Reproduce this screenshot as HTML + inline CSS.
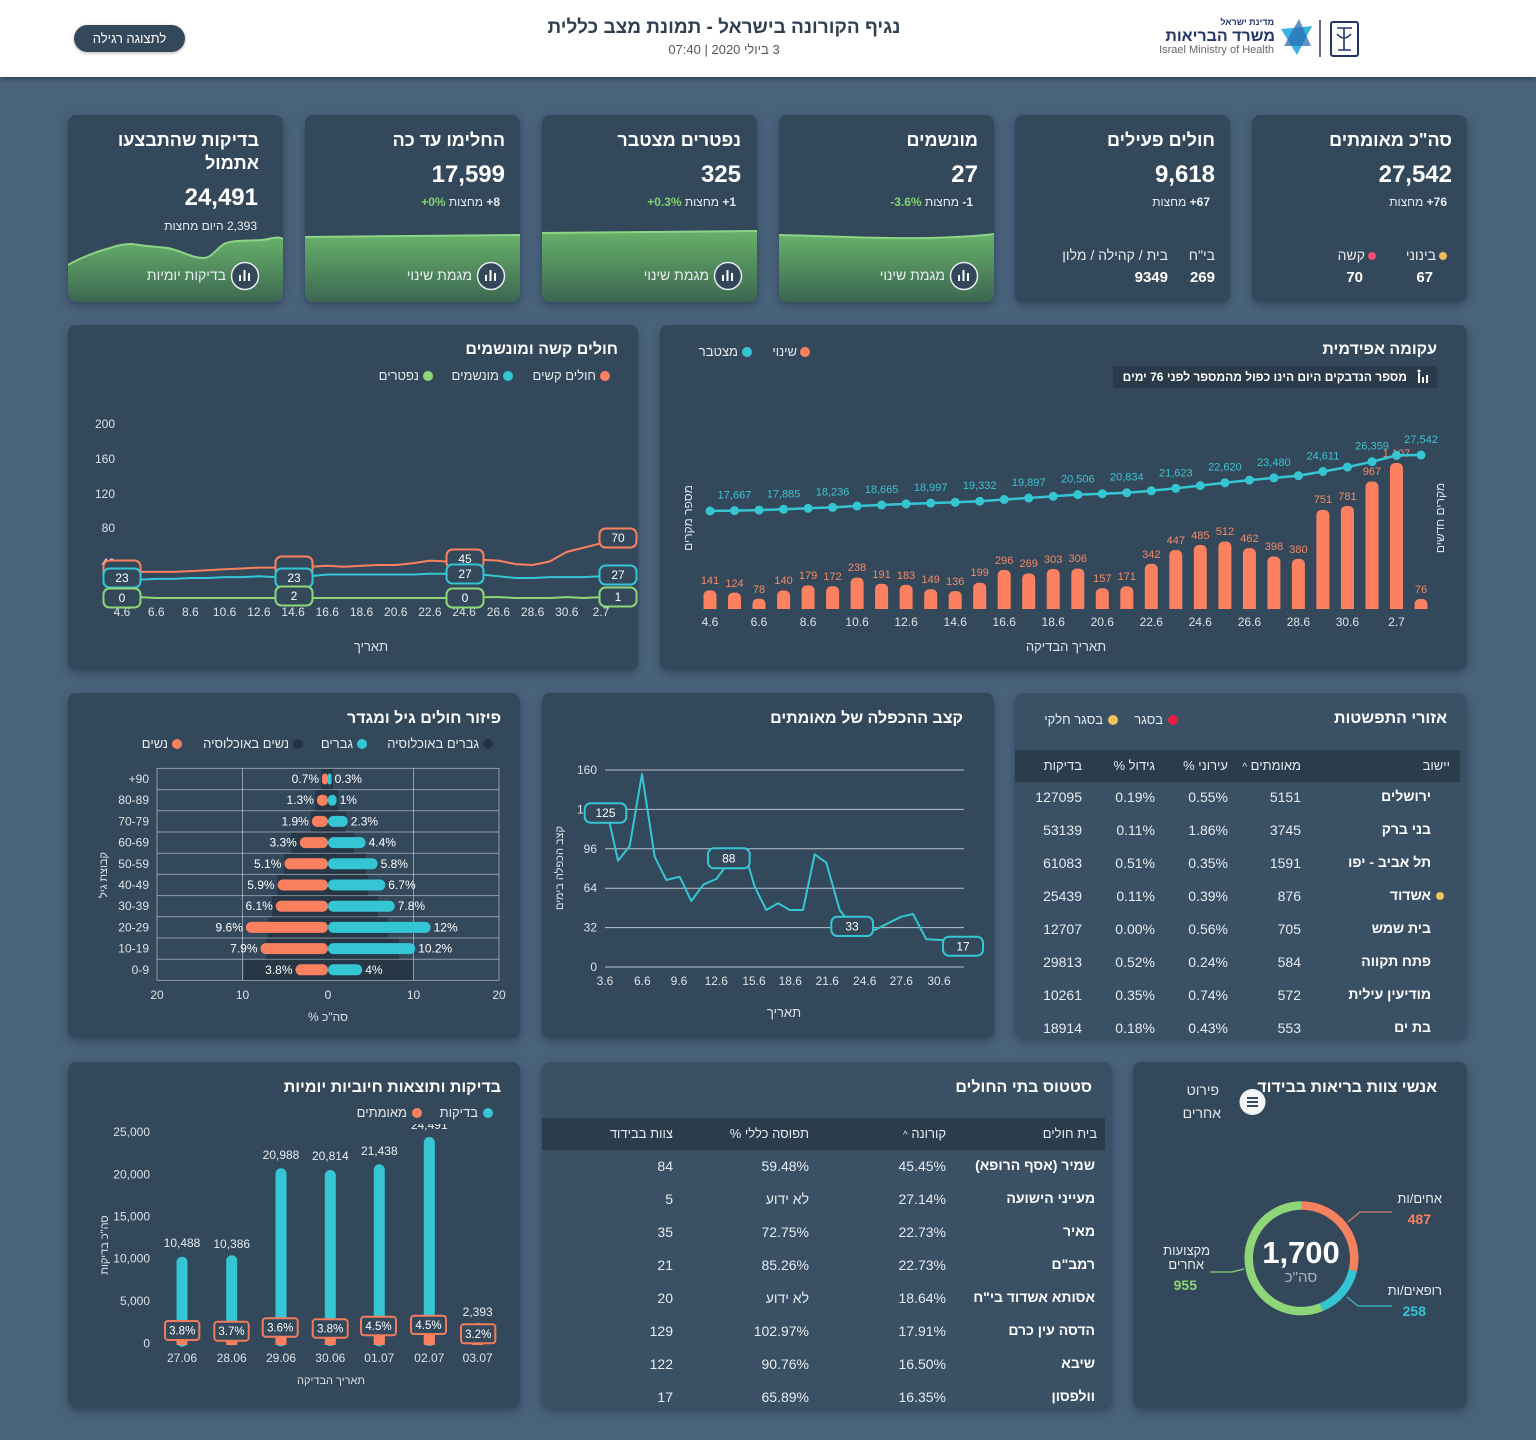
<!DOCTYPE html>
<html lang="he" dir="rtl">
<head>
<meta charset="utf-8">
<title>נגיף הקורונה בישראל</title>
<style>
*{margin:0;padding:0;box-sizing:border-box}
html,body{width:1536px;height:1440px;overflow:hidden}
body{position:relative;background:#4a637c;font-family:"Liberation Sans","DejaVu Sans",sans-serif;color:#fff}
.card{position:absolute;background:#34485b;border-radius:8px;box-shadow:0 3px 9px rgba(25,40,55,.5)}
.tb{background:#3a5065}
.t{position:absolute;white-space:nowrap;line-height:1}
.h{font-size:16px;font-weight:bold;color:#fff}
.l{font-size:13px;color:#e4eaee}
.ct{font-size:18px;font-weight:bold;color:#fff}
.cn{font-size:24px;font-weight:bold;color:#fff}
.cs{font-size:12px;color:#e8edf0}
.cs b{font-weight:bold}
.g{color:#7fd66f;font-weight:bold}
.bl{font-size:14px;color:#e8edf0}
.bv{font-size:15px;font-weight:bold;color:#fff}
.th{font-size:13px;color:#e6ecf0}
.td{font-size:14px;color:#e6ecf0}
.tn{font-size:14px;font-weight:bold;color:#fff}
svg{direction:ltr}
</style>
</head>
<body>

<!-- header -->
<div style="position:absolute;left:0;top:0;width:1536px;height:77px;background:#fff;box-shadow:0 2px 5px rgba(0,0,0,.35)"></div>
<div class="t" style="left:474px;width:500px;text-align:center;top:18px;font-size:19px;font-weight:bold;color:#2f3f50">נגיף הקורונה בישראל - תמונת מצב כללית</div>
<div class="t" style="left:474px;width:500px;text-align:center;top:43px;font-size:13px;color:#555">3 ביולי 2020 | 07:40</div>
<div style="position:absolute;left:74px;top:25px;width:111px;height:27px;border-radius:14px;background:#34485b;color:#fff;font-size:13px;line-height:27px;text-align:center;box-shadow:0 1px 3px rgba(0,0,0,.3)">לתצוגה רגילה</div>
<div class="t" style="right:262px;top:18px;font-size:9px;font-weight:bold;color:#22336b">מדינת ישראל</div>
<div class="t" style="right:261px;top:29px;font-size:16px;font-weight:bold;color:#22336b">משרד הבריאות</div>
<div class="t" style="right:262px;top:45px;font-size:11px;color:#666" dir="ltr">Israel Ministry of Health</div>

<!-- cards row 1 -->
<div class="card" style="left:1252px;top:115px;width:215px;height:187px"></div>
<div class="card" style="left:1015px;top:115px;width:215px;height:187px"></div>
<div class="card" style="left:779px;top:115px;width:215px;height:187px"></div>
<div class="card" style="left:542px;top:115px;width:215px;height:187px"></div>
<div class="card" style="left:305px;top:115px;width:215px;height:187px"></div>
<div class="card" style="left:68px;top:115px;width:215px;height:187px"></div>
<!-- row 2 -->
<div class="card" style="left:68px;top:325px;width:570px;height:345px"></div>
<div class="card" style="left:660px;top:325px;width:807px;height:345px"></div>
<!-- row 3 -->
<div class="card" style="left:68px;top:693px;width:452px;height:345px"></div>
<div class="card" style="left:542px;top:693px;width:452px;height:345px"></div>
<div class="card tb" style="left:1015px;top:693px;width:452px;height:345px"></div>
<!-- row 4 -->
<div class="card" style="left:68px;top:1062px;width:452px;height:346px"></div>
<div class="card tb" style="left:542px;top:1062px;width:570px;height:346px"></div>
<div class="card" style="left:1133px;top:1062px;width:334px;height:346px"></div>

<svg style="position:absolute;left:0;top:0;direction:ltr" direction="ltr" width="1536" height="1440" viewBox="0 0 1536 1440" font-family="Liberation Sans, DejaVu Sans, sans-serif">
<defs>
<linearGradient id="gg" x1="0" y1="0" x2="0" y2="1"><stop offset="0" stop-color="#67b16a"/><stop offset="1" stop-color="#3b6450"/></linearGradient>
<clipPath id="k6"><rect x="68" y="115" width="215" height="187" rx="8"/></clipPath>
<clipPath id="k5"><rect x="305" y="115" width="215" height="187" rx="8"/></clipPath>
<clipPath id="k4"><rect x="542" y="115" width="215" height="187" rx="8"/></clipPath>
<clipPath id="k3"><rect x="779" y="115" width="215" height="187" rx="8"/></clipPath>
<clipPath id="kb"><rect x="660" y="380" width="800" height="229"/></clipPath>
<clipPath id="kt"><rect x="68" y="1124" width="452" height="260"/></clipPath>
</defs>

<!-- header logo -->
<polygon points="1281,29 1312,26 1297,55" fill="#3ab4de"/>
<polygon points="1284,46 1299,19 1311,46" fill="#2a6db5" opacity="0.75"/>
<line x1="1320" y1="20" x2="1320" y2="57" stroke="#22336b" stroke-width="1.5"/>
<rect x="1331" y="22" width="27" height="34" rx="2" fill="none" stroke="#22336b" stroke-width="2"/>
<path d="M1337,28 L1352,28 M1344,28 L1344,50 M1338,50 L1351,50 M1337,34 Q1344,42 1351,34" fill="none" stroke="#22336b" stroke-width="1.6"/>

<!-- top card green areas -->
<path clip-path="url(#k6)" fill="url(#gg)" d="M66,266 C80,258 95,252 110,248 C118,245 124,244 132,244 C145,246 155,247 168,248 C182,251 192,258 203,258 C212,258 216,249 224,244 C232,240 248,241 262,240 C272,239 278,235 285,240 L285,304 L66,304 Z"/>
<path clip-path="url(#k6)" fill="none" stroke="#8ed487" stroke-width="2" d="M66,266 C80,258 95,252 110,248 C118,245 124,244 132,244 C145,246 155,247 168,248 C182,251 192,258 203,258 C212,258 216,249 224,244 C232,240 248,241 262,240 C272,239 278,235 285,240"/>
<path clip-path="url(#k5)" fill="url(#gg)" d="M305,237 L520,235 L520,304 L305,304 Z"/>
<path clip-path="url(#k5)" fill="none" stroke="#8ed487" stroke-width="2" d="M305,237 L520,235"/>
<path clip-path="url(#k4)" fill="url(#gg)" d="M542,233 L757,231 L757,304 L542,304 Z"/>
<path clip-path="url(#k4)" fill="none" stroke="#8ed487" stroke-width="2" d="M542,233 L757,231"/>
<path clip-path="url(#k3)" fill="url(#gg)" d="M779,235 C830,236 880,239 930,238 C960,237 980,236 994,234 L994,304 L779,304 Z"/>
<path clip-path="url(#k3)" fill="none" stroke="#8ed487" stroke-width="2" d="M779,235 C830,236 880,239 930,238 C960,237 980,236 994,234"/>

<g fill="#33475a" stroke="#e6ecf0" stroke-width="1.5">
<circle cx="491" cy="276" r="13.5"/><circle cx="728" cy="276" r="13.5"/><circle cx="964" cy="276" r="13.5"/><circle cx="245" cy="276" r="13.5"/>
</g>
<g fill="#fff">
<rect x="485" y="275" width="2" height="6"/><rect x="489.5" y="270" width="2" height="11"/><rect x="494" y="273" width="2" height="8"/>
<rect x="722" y="275" width="2" height="6"/><rect x="726.5" y="270" width="2" height="11"/><rect x="731" y="273" width="2" height="8"/>
<rect x="958" y="275" width="2" height="6"/><rect x="962.5" y="270" width="2" height="11"/><rect x="967" y="273" width="2" height="8"/>
<rect x="239" y="275" width="2" height="6"/><rect x="243.5" y="270" width="2" height="11"/><rect x="248" y="273" width="2" height="8"/>
</g>
<circle cx="1443" cy="256" r="4" fill="#e9bf55"/>
<circle cx="1372" cy="256" r="4" fill="#ee4d73"/>

<!-- ===== epidemic curve ===== -->
<circle cx="805" cy="352" r="5" fill="#fa8060"/>
<circle cx="747" cy="352" r="5" fill="#35c6d4"/>
<rect x="1113" y="366" width="324" height="22" fill="#2b3a4a"/>
<g fill="#fff"><rect x="1418" y="373" width="2" height="10"/><rect x="1422" y="377" width="2" height="6"/><rect x="1426" y="375" width="2" height="8"/><circle cx="1419" cy="371" r="1.5"/></g>

<g clip-path="url(#kb)" fill="#fb8160">
<rect x="703.5" y="590.4" width="13" height="26.6" rx="5"/>
<rect x="728" y="592.6" width="13" height="24.4" rx="5"/>
<rect x="752.5" y="598.7" width="13" height="18.3" rx="5"/>
<rect x="777.1" y="590.5" width="13" height="26.5" rx="5"/>
<rect x="801.6" y="585.4" width="13" height="31.6" rx="5"/>
<rect x="826.1" y="586.3" width="13" height="30.7" rx="5"/>
<rect x="850.6" y="577.6" width="13" height="39.4" rx="5"/>
<rect x="875.1" y="583.8" width="13" height="33.2" rx="5"/>
<rect x="899.6" y="584.9" width="13" height="32.1" rx="5"/>
<rect x="924.2" y="589.3" width="13" height="27.7" rx="5"/>
<rect x="948.7" y="591.1" width="13" height="25.9" rx="5"/>
<rect x="973.2" y="582.8" width="13" height="34.2" rx="5"/>
<rect x="997.7" y="570" width="13" height="47" rx="5"/>
<rect x="1022.2" y="573.5" width="13" height="43.5" rx="5"/>
<rect x="1046.7" y="569" width="13" height="48" rx="5"/>
<rect x="1071.3" y="568.6" width="13" height="48.4" rx="5"/>
<rect x="1095.8" y="588.3" width="13" height="28.7" rx="5"/>
<rect x="1120.3" y="586.4" width="13" height="30.6" rx="5"/>
<rect x="1144.8" y="563.9" width="13" height="53.1" rx="5"/>
<rect x="1169.3" y="550" width="13" height="67" rx="5"/>
<rect x="1193.8" y="545" width="13" height="72" rx="5"/>
<rect x="1218.4" y="541.5" width="13" height="75.5" rx="5"/>
<rect x="1242.9" y="548.1" width="13" height="68.9" rx="5"/>
<rect x="1267.4" y="556.5" width="13" height="60.5" rx="5"/>
<rect x="1291.9" y="558.9" width="13" height="58.1" rx="5"/>
<rect x="1316.4" y="509.9" width="13" height="107.1" rx="5"/>
<rect x="1340.9" y="506" width="13" height="111" rx="5"/>
<rect x="1365.5" y="481.5" width="13" height="135.5" rx="5"/>
<rect x="1390" y="463" width="13" height="154" rx="5"/>
<rect x="1414.5" y="599" width="13" height="18" rx="5"/>
</g>
<g fill="#f48a66" font-size="11" text-anchor="middle">
<text x="710" y="584">141</text><text x="734.5" y="587">124</text><text x="759" y="593">78</text><text x="783.6" y="584">140</text><text x="808.1" y="579">179</text><text x="832.6" y="580">172</text><text x="857.1" y="571">238</text><text x="881.6" y="578">191</text><text x="906.1" y="579">183</text><text x="930.7" y="583">149</text><text x="955.2" y="585">136</text><text x="979.7" y="576">199</text><text x="1004.2" y="564">296</text><text x="1028.7" y="567">269</text><text x="1053.2" y="563">303</text><text x="1077.8" y="562">306</text><text x="1102.3" y="582">157</text><text x="1126.8" y="580">171</text><text x="1151.3" y="558">342</text><text x="1175.8" y="544">447</text><text x="1200.3" y="539">485</text><text x="1224.9" y="535">512</text><text x="1249.4" y="542">462</text><text x="1273.9" y="550">398</text><text x="1298.4" y="553">380</text><text x="1322.9" y="503">751</text><text x="1347.4" y="500">781</text><text x="1372" y="475">967</text><text x="1396.5" y="457">1,107</text><text x="1421" y="593">76</text>
</g>
<polyline fill="none" stroke="#35c6d4" stroke-width="2.5" points="710,511 734.5,510.6 759,510.1 783.6,509.3 808.1,508.3 832.6,507.4 857.1,506 881.6,505 906.1,503.9 930.7,503.1 955.2,502.3 979.7,501.2 1004.2,499.5 1028.7,498 1053.2,496.3 1077.8,494.6 1102.3,493.7 1126.8,492.7 1151.3,490.8 1175.8,488.3 1200.3,485.6 1224.9,482.7 1249.4,480.1 1273.9,477.9 1298.4,475.7 1322.9,471.5 1347.4,467.1 1372,461.7 1396.5,455.4 1421,455"/>
<g fill="#35c6d4">
<circle cx="710" cy="511" r="4.5"/><circle cx="734.5" cy="510.6" r="4.5"/><circle cx="759" cy="510.1" r="4.5"/><circle cx="783.6" cy="509.3" r="4.5"/><circle cx="808.1" cy="508.3" r="4.5"/><circle cx="832.6" cy="507.4" r="4.5"/><circle cx="857.1" cy="506" r="4.5"/><circle cx="881.6" cy="505" r="4.5"/><circle cx="906.1" cy="503.9" r="4.5"/><circle cx="930.7" cy="503.1" r="4.5"/><circle cx="955.2" cy="502.3" r="4.5"/><circle cx="979.7" cy="501.2" r="4.5"/><circle cx="1004.2" cy="499.5" r="4.5"/><circle cx="1028.7" cy="498" r="4.5"/><circle cx="1053.2" cy="496.3" r="4.5"/><circle cx="1077.8" cy="494.6" r="4.5"/><circle cx="1102.3" cy="493.7" r="4.5"/><circle cx="1126.8" cy="492.7" r="4.5"/><circle cx="1151.3" cy="490.8" r="4.5"/><circle cx="1175.8" cy="488.3" r="4.5"/><circle cx="1200.3" cy="485.6" r="4.5"/><circle cx="1224.9" cy="482.7" r="4.5"/><circle cx="1249.4" cy="480.1" r="4.5"/><circle cx="1273.9" cy="477.9" r="4.5"/><circle cx="1298.4" cy="475.7" r="4.5"/><circle cx="1322.9" cy="471.5" r="4.5"/><circle cx="1347.4" cy="467.1" r="4.5"/><circle cx="1372" cy="461.7" r="4.5"/><circle cx="1396.5" cy="455.4" r="4.5"/><circle cx="1421" cy="455" r="4.5"/>
</g>
<g fill="#3cc3d0" font-size="11" text-anchor="middle">
<text x="734.5" y="498.6">17,667</text><text x="783.6" y="497.3">17,885</text><text x="832.6" y="495.4">18,236</text><text x="881.6" y="493">18,665</text><text x="930.7" y="491.1">18,997</text><text x="979.7" y="489.2">19,332</text><text x="1028.7" y="486">19,897</text><text x="1077.8" y="482.6">20,506</text><text x="1126.8" y="480.7">20,834</text><text x="1175.8" y="476.3">21,623</text><text x="1224.9" y="470.7">22,620</text><text x="1273.9" y="465.9">23,480</text><text x="1322.9" y="459.5">24,611</text><text x="1372" y="449.7">26,359</text><text x="1421" y="443">27,542</text>
</g>
<g fill="#dce3e8" font-size="12" text-anchor="middle">
<text x="710" y="626">4.6</text><text x="759" y="626">6.6</text><text x="808.1" y="626">8.6</text><text x="857.1" y="626">10.6</text><text x="906.1" y="626">12.6</text><text x="955.2" y="626">14.6</text><text x="1004.2" y="626">16.6</text><text x="1053.2" y="626">18.6</text><text x="1102.3" y="626">20.6</text><text x="1151.3" y="626">22.6</text><text x="1200.3" y="626">24.6</text><text x="1249.4" y="626">26.6</text><text x="1298.4" y="626">28.6</text><text x="1347.4" y="626">30.6</text><text x="1396.5" y="626">2.7</text>
<text x="1066" y="651" font-size="13">תאריך הבדיקה</text>
<text transform="translate(692,518) rotate(-90)" font-size="12">מספר מקרים</text>
<text transform="translate(1444,518) rotate(-90)" font-size="12">מקרים חדשים</text>
</g>

<!-- ===== severe / ventilated ===== -->
<circle cx="605" cy="376" r="5" fill="#fa8060"/>
<circle cx="508" cy="376" r="5" fill="#35c6d4"/>
<circle cx="428" cy="376" r="5" fill="#8fd679"/>
<g fill="#dce3e8" font-size="12" text-anchor="end">
<text x="115" y="428">200</text><text x="115" y="463">160</text><text x="115" y="498">120</text><text x="115" y="532">80</text><text x="115" y="567">40</text>
</g>
<g fill="#dce3e8" font-size="12" text-anchor="middle">
<text x="122" y="616">4.6</text><text x="156.2" y="616">6.6</text><text x="190.4" y="616">8.6</text><text x="224.6" y="616">10.6</text><text x="258.9" y="616">12.6</text><text x="293.1" y="616">14.6</text><text x="327.3" y="616">16.6</text><text x="361.5" y="616">18.6</text><text x="395.7" y="616">20.6</text><text x="429.9" y="616">22.6</text><text x="464.1" y="616">24.6</text><text x="498.4" y="616">26.6</text><text x="532.6" y="616">28.6</text><text x="566.8" y="616">30.6</text><text x="601" y="616">2.7</text>
<text x="371" y="651" font-size="13">תאריך</text>
</g>
<g fill="none" stroke-width="2" stroke-linejoin="round">
<polyline stroke="#fa8060" points="122,569.3 139.1,571.9 156.2,571.9 173.3,571.9 190.4,571.1 207.5,570.2 224.6,569.3 241.7,568.5 258.9,567.6 276,567.6 293.1,568.5 310.2,566.7 327.3,565.8 344.4,566.7 361.5,565.8 378.6,565 395.7,565 412.8,563.2 429.9,560.6 447,561.5 464.1,558.9 481.2,559.8 498.4,560.6 515.5,564.1 532.6,565 549.7,561.5 566.8,551.9 583.9,547.6 601,543.3 618.1,537.2"/>
<polyline stroke="#35c6d4" points="122,578 139.1,579.8 156.2,578.9 173.3,578.9 190.4,578 207.5,578 224.6,577.1 241.7,577.1 258.9,576.3 276,577.1 293.1,578 310.2,576.3 327.3,574.5 344.4,574.5 361.5,574.5 378.6,574.5 395.7,574.5 412.8,574.5 429.9,573.7 447,573.7 464.1,574.5 481.2,574.5 498.4,576.3 515.5,578 532.6,578 549.7,577.1 566.8,577.1 583.9,577.1 601,576.3 618.1,574.5"/>
<polyline stroke="#8fd679" points="122,598 139.1,597.1 156.2,598 173.3,598 190.4,598 207.5,598 224.6,598 241.7,598 258.9,598 276,598 293.1,596.3 310.2,598 327.3,598 344.4,598 361.5,598 378.6,598 395.7,598 412.8,598 429.9,598 447,598 464.1,598 481.2,597.1 498.4,597.1 515.5,598 532.6,598 549.7,598 566.8,597.1 583.9,598 601,597.1 618.1,597.1"/>
</g>
<g fill="#34485b" stroke-width="2">
<rect x="103.5" y="560.5" width="37" height="19" rx="6" stroke="#fa8060"/>
<rect x="275.5" y="556.5" width="37" height="19" rx="6" stroke="#fa8060"/>
<rect x="446.5" y="549.5" width="37" height="19" rx="6" stroke="#fa8060"/>
<rect x="599.5" y="528.5" width="37" height="19" rx="6" stroke="#fa8060"/>
<rect x="103.5" y="568.5" width="37" height="19" rx="6" stroke="#35c6d4"/>
<rect x="275.5" y="568.5" width="37" height="19" rx="6" stroke="#35c6d4"/>
<rect x="446.5" y="564.5" width="37" height="19" rx="6" stroke="#35c6d4"/>
<rect x="599.5" y="565.5" width="37" height="19" rx="6" stroke="#35c6d4"/>
<rect x="103.5" y="588.5" width="37" height="19" rx="6" stroke="#8fd679"/>
<rect x="275.5" y="586.5" width="37" height="19" rx="6" stroke="#8fd679"/>
<rect x="446.5" y="588.5" width="37" height="19" rx="6" stroke="#8fd679"/>
<rect x="599.5" y="587.5" width="37" height="19" rx="6" stroke="#8fd679"/>
</g>
<g fill="#fff" font-size="12" text-anchor="middle">
<text x="465" y="563">45</text><text x="618" y="542">70</text>
<text x="122" y="582">23</text><text x="294" y="582">23</text><text x="465" y="578">27</text><text x="618" y="579">27</text>
<text x="122" y="602">0</text><text x="294" y="600">2</text><text x="465" y="602">0</text><text x="618" y="601">1</text>
</g>

<!-- ===== age pyramid ===== -->
<circle cx="488" cy="744" r="5" fill="#243240"/>
<circle cx="362" cy="744" r="5" fill="#35c6d4"/>
<circle cx="298" cy="744" r="5" fill="#243240"/>
<circle cx="177" cy="744" r="5" fill="#fa8060"/>
<g stroke="#c9d2da" stroke-opacity="0.6" stroke-width="1">
<line x1="157" y1="768.4" x2="499" y2="768.4"/><line x1="157" y1="789.6" x2="499" y2="789.6"/><line x1="157" y1="810.8" x2="499" y2="810.8"/><line x1="157" y1="832" x2="499" y2="832"/><line x1="157" y1="853.2" x2="499" y2="853.2"/><line x1="157" y1="874.4" x2="499" y2="874.4"/><line x1="157" y1="895.6" x2="499" y2="895.6"/><line x1="157" y1="916.8" x2="499" y2="916.8"/><line x1="157" y1="938" x2="499" y2="938"/><line x1="157" y1="959.2" x2="499" y2="959.2"/><line x1="157" y1="980.4" x2="499" y2="980.4"/>
<line x1="157" y1="768.4" x2="157" y2="980.4"/><line x1="242.5" y1="768.4" x2="242.5" y2="980.4"/><line x1="413.5" y1="768.4" x2="413.5" y2="980.4"/><line x1="499" y1="768.4" x2="499" y2="980.4"/>
</g>
<g fill="#283746">
<rect x="321" y="769" width="12" height="20.2"/>
<rect x="315" y="790.2" width="23" height="20.2"/>
<rect x="311" y="811.4" width="35" height="20.2"/>
<rect x="291" y="832.6" width="63" height="20.2"/>
<rect x="284" y="853.8" width="82" height="20.2"/>
<rect x="277" y="875" width="91" height="20.2"/>
<rect x="272" y="896.2" width="106" height="20.2"/>
<rect x="268" y="917.4" width="120" height="20.2"/>
<rect x="266" y="938.6" width="133" height="20.2"/>
<rect x="244" y="959.8" width="169" height="20.2"/>
</g>
<g fill="#fa8060">
<rect x="322" y="773.5" width="6" height="11" rx="3"/>
<rect x="316.9" y="794.7" width="11.1" height="11" rx="5"/>
<rect x="311.8" y="815.9" width="16.2" height="11" rx="5.5"/>
<rect x="299.8" y="837.1" width="28.2" height="11" rx="5.5"/>
<rect x="284.4" y="858.3" width="43.6" height="11" rx="5.5"/>
<rect x="277.6" y="879.5" width="50.4" height="11" rx="5.5"/>
<rect x="275.8" y="900.7" width="52.2" height="11" rx="5.5"/>
<rect x="245.9" y="921.9" width="82.1" height="11" rx="5.5"/>
<rect x="260.5" y="943.1" width="67.5" height="11" rx="5.5"/>
<rect x="295.5" y="964.3" width="32.5" height="11" rx="5.5"/>
</g>
<g fill="#35c6d4">
<rect x="328" y="773.5" width="3.5" height="11" rx="1.7"/>
<rect x="328" y="794.7" width="8.6" height="11" rx="4.3"/>
<rect x="328" y="815.9" width="19.7" height="11" rx="5.5"/>
<rect x="328" y="837.1" width="37.6" height="11" rx="5.5"/>
<rect x="328" y="858.3" width="49.6" height="11" rx="5.5"/>
<rect x="328" y="879.5" width="57.3" height="11" rx="5.5"/>
<rect x="328" y="900.7" width="66.7" height="11" rx="5.5"/>
<rect x="328" y="921.9" width="102.6" height="11" rx="5.5"/>
<rect x="328" y="943.1" width="87.2" height="11" rx="5.5"/>
<rect x="328" y="964.3" width="34.2" height="11" rx="5.5"/>
</g>
<g fill="#fff" font-size="12" text-anchor="end">
<text x="319" y="783">0.7%</text><text x="313.9" y="804.2">1.3%</text><text x="308.8" y="825.4">1.9%</text><text x="296.8" y="846.6">3.3%</text><text x="281.4" y="867.8">5.1%</text><text x="274.6" y="889">5.9%</text><text x="272.8" y="910.2">6.1%</text><text x="242.9" y="931.4">9.6%</text><text x="257.5" y="952.6">7.9%</text><text x="292.5" y="973.8">3.8%</text>
</g>
<g fill="#fff" font-size="12" text-anchor="start">
<text x="334.6" y="783">0.3%</text><text x="339.6" y="804.2">1%</text><text x="350.7" y="825.4">2.3%</text><text x="368.6" y="846.6">4.4%</text><text x="380.6" y="867.8">5.8%</text><text x="388.3" y="889">6.7%</text><text x="397.7" y="910.2">7.8%</text><text x="433.6" y="931.4">12%</text><text x="418.2" y="952.6">10.2%</text><text x="365.2" y="973.8">4%</text>
</g>
<g fill="#dce3e8" font-size="12" text-anchor="end">
<text x="149" y="783">+90</text><text x="149" y="804.2">80-89</text><text x="149" y="825.4">70-79</text><text x="149" y="846.6">60-69</text><text x="149" y="867.8">50-59</text><text x="149" y="889">40-49</text><text x="149" y="910.2">30-39</text><text x="149" y="931.4">20-29</text><text x="149" y="952.6">10-19</text><text x="149" y="973.8">0-9</text>
</g>
<g fill="#dce3e8" font-size="12" text-anchor="middle">
<text x="157" y="999">20</text><text x="242.5" y="999">10</text><text x="328" y="999">0</text><text x="413.5" y="999">10</text><text x="499" y="999">20</text>
<text x="328" y="1021">% סה"כ</text>
<text transform="translate(107,875) rotate(-90)" font-size="11">קבוצת גיל</text>
</g>

<!-- ===== doubling rate ===== -->
<g stroke="#d0d8de" stroke-opacity="0.85" stroke-width="1">
<line x1="605" y1="770" x2="964" y2="770"/><line x1="605" y1="809.4" x2="964" y2="809.4"/><line x1="605" y1="848.8" x2="964" y2="848.8"/><line x1="605" y1="888.2" x2="964" y2="888.2"/><line x1="605" y1="927.6" x2="964" y2="927.6"/><line x1="605" y1="967" x2="964" y2="967"/>
</g>
<g fill="#dce3e8" font-size="12" text-anchor="end">
<text x="597" y="774">160</text><text x="597" y="813.4">128</text><text x="597" y="852.8">96</text><text x="597" y="892.2">64</text><text x="597" y="931.6">32</text><text x="597" y="971">0</text>
</g>
<g fill="#dce3e8" font-size="12" text-anchor="middle">
<text x="605" y="985">3.6</text><text x="642.3" y="985">6.6</text><text x="679" y="985">9.6</text><text x="716.3" y="985">12.6</text><text x="754" y="985">15.6</text><text x="790.3" y="985">18.6</text><text x="827.3" y="985">21.6</text><text x="864.7" y="985">24.6</text><text x="901.3" y="985">27.6</text><text x="939" y="985">30.6</text>
<text x="784" y="1017" font-size="13">תאריך</text>
<text transform="translate(563,868) rotate(-90)" font-size="11">קצב הכפלה בימים</text>
</g>
<polyline fill="none" stroke="#35c6d4" stroke-width="2" stroke-linejoin="round" points="606,812 609.7,823.3 618,860.7 629.7,846 642,774 654.7,856.7 666.3,880 679.7,876.7 691.3,901 703.7,884.3 716.3,879 723,870 729.7,858.3 746.3,858.3 754.7,886.7 766.3,910 778,903.3 789.7,910 803,910 814.7,854.3 826.3,862.7 839.7,910 851.3,925 874.7,930 888,923.3 901.3,916.7 913,914 926.3,939.3 941.3,940 963,945.7"/>
<g fill="#34485b" stroke="#35c6d4" stroke-width="2">
<rect x="584.7" y="803.3" width="41.6" height="19.4" rx="6"/>
<rect x="708" y="848.3" width="41.7" height="20" rx="6"/>
<rect x="831.3" y="916.7" width="41.7" height="19.3" rx="6"/>
<rect x="943" y="936.7" width="40" height="19" rx="6"/>
</g>
<g fill="#fff" font-size="12" text-anchor="middle">
<text x="605.5" y="817">125</text><text x="728.8" y="862.5">88</text><text x="852" y="930.5">33</text><text x="963" y="950.5">17</text>
</g>

<!-- ===== spread table ===== -->
<circle cx="1173" cy="720" r="5" fill="#e81e42"/>
<circle cx="1113" cy="720" r="5" fill="#eec35a"/>
<rect x="1015" y="750" width="445" height="32" fill="#2b3c4d"/>
<circle cx="1440" cy="896" r="4" fill="#eec35a"/>

<!-- ===== daily tests ===== -->
<circle cx="488" cy="1113" r="5" fill="#35c6d4"/>
<circle cx="417" cy="1113" r="5" fill="#fa8060"/>
<g fill="#dce3e8" font-size="12" text-anchor="end">
<text x="150" y="1136">25,000</text><text x="150" y="1178.5">20,000</text><text x="150" y="1220.7">15,000</text><text x="150" y="1262.3">10,000</text><text x="150" y="1305">5,000</text><text x="150" y="1347.3">0</text>
</g>
<g fill="#35c6d4">
<rect x="176.5" y="1256.7" width="11" height="90" rx="5.5"/>
<rect x="226.2" y="1255.3" width="11" height="90" rx="5.5"/>
<rect x="275.5" y="1168.3" width="11" height="178" rx="5.5"/>
<rect x="324.8" y="1170" width="11" height="176" rx="5.5"/>
<rect x="373.8" y="1164.3" width="11" height="182" rx="5.5"/>
<rect x="423.8" y="1137" width="11" height="209" rx="5.5"/>
<rect x="472.2" y="1322.8" width="11" height="22" rx="5.5"/>
</g>
<g fill="#fa8060">
<rect x="176.5" y="1337" width="11" height="8"/><rect x="226.2" y="1337" width="11" height="8"/><rect x="275.5" y="1335" width="11" height="10"/><rect x="324.8" y="1335" width="11" height="10"/><rect x="373.8" y="1334" width="11" height="11"/><rect x="423.8" y="1333" width="11" height="12"/><rect x="472.2" y="1340" width="11" height="5"/>
</g>
<g fill="#e8edf0" font-size="12" text-anchor="middle" clip-path="url(#kt)">
<text x="182" y="1247">10,488</text><text x="231.7" y="1248">10,386</text><text x="281" y="1159">20,988</text><text x="330.3" y="1160">20,814</text><text x="379.3" y="1155">21,438</text><text x="429.3" y="1129">24,491</text><text x="477.7" y="1316">2,393</text>
</g>
<g fill="#34485b" stroke="#ef7c5c" stroke-width="2">
<rect x="165" y="1321" width="34.3" height="19" rx="3"/>
<rect x="214.3" y="1321.7" width="34.4" height="19" rx="3"/>
<rect x="262.7" y="1318.3" width="35" height="18.4" rx="3"/>
<rect x="312.7" y="1319.3" width="35" height="18.4" rx="3"/>
<rect x="361" y="1316.7" width="35" height="18.6" rx="3"/>
<rect x="411" y="1315.7" width="35" height="18.3" rx="3"/>
<rect x="461" y="1324.3" width="34.3" height="19" rx="3"/>
</g>
<g fill="#fff" font-size="11.5" text-anchor="middle">
<text x="182.2" y="1334.5">3.8%</text><text x="231.5" y="1335.2">3.7%</text><text x="280.2" y="1331.5">3.6%</text><text x="330.2" y="1332.5">3.8%</text><text x="378.5" y="1330">4.5%</text><text x="428.5" y="1328.8">4.5%</text><text x="478.2" y="1337.8">3.2%</text>
</g>
<g fill="#dce3e8" font-size="12" text-anchor="middle">
<text x="182" y="1362">27.06</text><text x="231.7" y="1362">28.06</text><text x="281" y="1362">29.06</text><text x="330.3" y="1362">30.06</text><text x="379.3" y="1362">01.07</text><text x="429.3" y="1362">02.07</text><text x="477.7" y="1362">03.07</text>
<text x="331" y="1384" font-size="11">תאריך הבדיקה</text>
<text transform="translate(108,1245) rotate(-90)" font-size="11">סה"כ בדיקות</text>
</g>

<!-- ===== hospitals table band ===== -->
<rect x="542" y="1118" width="563" height="32" fill="#2b3c4d"/>

<!-- ===== donut ===== -->
<circle cx="1252.5" cy="1102" r="13" fill="#f3f5f7"/>
<g stroke="#33475a" stroke-width="2"><line x1="1247" y1="1098" x2="1258" y2="1098"/><line x1="1247" y1="1102" x2="1258" y2="1102"/><line x1="1247" y1="1106" x2="1258" y2="1106"/></g>
<g fill="none" stroke-width="8.5" transform="rotate(-90 1301.5 1258.3)">
<circle cx="1301.5" cy="1258.3" r="52.8" stroke="#f5825f" stroke-dasharray="95.04 331.75"/>
<circle cx="1301.5" cy="1258.3" r="52.8" stroke="#34c5d5" stroke-dasharray="50.35 331.75" stroke-dashoffset="-95.04"/>
<circle cx="1301.5" cy="1258.3" r="52.8" stroke="#8fd679" stroke-dasharray="186.36 331.75" stroke-dashoffset="-145.39"/>
</g>
<g fill="none" stroke-width="1.3">
<polyline stroke="#c9826e" points="1348,1222 1360,1212 1392,1212"/>
<polyline stroke="#3bb8c6" points="1347,1297 1358,1306 1392,1306"/>
<polyline stroke="#8fcf7e" points="1244,1269 1232,1272 1210,1272"/>
</g>
<text x="1301" y="1263" text-anchor="middle" font-size="31" font-weight="bold" fill="#fff">1,700</text>
<text x="1301" y="1282" text-anchor="middle" font-size="15" fill="#a8b4c0">סה"כ</text>
</svg>

<!-- ===== top cards text ===== -->
<div class="t ct" style="right:84px;top:131px">סה"כ מאומתים</div>
<div class="t cn" style="right:84px;top:163px">27,542</div>
<div class="t cs" style="right:89px;top:196px"><b dir="ltr">+76</b> מחצות</div>
<div class="t bl" style="right:100px;top:248px">בינוני</div>
<div class="t bv" style="right:103px;top:270px">67</div>
<div class="t bl" style="right:171px;top:248px">קשה</div>
<div class="t bv" style="right:173px;top:270px">70</div>

<div class="t ct" style="right:321px;top:131px">חולים פעילים</div>
<div class="t cn" style="right:321px;top:163px">9,618</div>
<div class="t cs" style="right:326px;top:196px"><b dir="ltr">+67</b> מחצות</div>
<div class="t bl" style="right:321px;top:248px">בי"ח</div>
<div class="t bv" style="right:321px;top:270px">269</div>
<div class="t bl" style="right:368px;top:248px">בית / קהילה / מלון</div>
<div class="t bv" style="right:368px;top:270px">9349</div>

<div class="t ct" style="right:558px;top:131px">מונשמים</div>
<div class="t cn" style="right:558px;top:163px">27</div>
<div class="t cs" style="right:563px;top:196px"><b dir="ltr">-1</b> מחצות <span class="g" dir="ltr">-3.6%</span></div>
<div class="t bl" style="right:591px;top:268px">מגמת שינוי</div>

<div class="t ct" style="right:795px;top:131px">נפטרים מצטבר</div>
<div class="t cn" style="right:795px;top:163px">325</div>
<div class="t cs" style="right:800px;top:196px"><b dir="ltr">+1</b> מחצות <span class="g" dir="ltr">+0.3%</span></div>
<div class="t bl" style="right:827px;top:268px">מגמת שינוי</div>

<div class="t ct" style="right:1031px;top:131px">החלימו עד כה</div>
<div class="t cn" style="right:1031px;top:163px">17,599</div>
<div class="t cs" style="right:1036px;top:196px"><b dir="ltr">+8</b> מחצות <span class="g" dir="ltr">+0%</span></div>
<div class="t bl" style="right:1064px;top:268px">מגמת שינוי</div>

<div class="t ct" style="right:1277px;top:131px">בדיקות שהתבצעו</div>
<div class="t ct" style="right:1277px;top:154px">אתמול</div>
<div class="t cn" style="right:1278px;top:186px">24,491</div>
<div class="t cs" style="right:1279px;top:220px"><span dir="ltr">2,393</span> היום מחצות</div>
<div class="t bl" style="right:1310px;top:268px">בדיקות יומיות</div>

<!-- ===== row 2 texts ===== -->
<div class="t h" style="right:99px;top:342px">עקומה אפידמית</div>
<div class="t l" style="right:739px;top:345px">שינוי</div>
<div class="t l" style="right:798px;top:345px">מצטבר</div>
<div class="t" style="right:129px;top:371px;font-size:12px;font-weight:bold;color:#fff">מספר הנדבקים היום הינו כפול מהמספר לפני 76 ימים</div>

<div class="t h" style="right:918px;top:342px">חולים קשה ומונשמים</div>
<div class="t l" style="right:940px;top:369px">חולים קשים</div>
<div class="t l" style="right:1037px;top:369px">מונשמים</div>
<div class="t l" style="right:1117px;top:369px">נפטרים</div>

<!-- ===== row 3 texts ===== -->
<div class="t h" style="right:1035px;top:711px">פיזור חולים גיל ומגדר</div>
<div class="t l" style="right:1057px;top:737px">גברים באוכלוסיה</div>
<div class="t l" style="right:1183px;top:737px">גברים</div>
<div class="t l" style="right:1247px;top:737px">נשים באוכלוסיה</div>
<div class="t l" style="right:1368px;top:737px">נשים</div>

<div class="t h" style="right:573px;top:711px">קצב ההכפלה של מאומתים</div>

<div class="t h" style="right:89px;top:711px">אזורי התפשטות</div>
<div class="t l" style="right:373px;top:713px">בסגר</div>
<div class="t l" style="right:433px;top:713px">בסגר חלקי</div>
<div class="t th" style="right:86px;top:759px">יישוב</div>
<div class="t th" style="right:235px;top:759px">מאומתים <span style="font-size:10px">^</span></div>
<div class="t th" style="right:308px;top:759px">עירוני %</div>
<div class="t th" style="right:381px;top:759px">גידול %</div>
<div class="t th" style="right:454px;top:759px">בדיקות</div>

<div class="t tn" style="right:105px;top:789px">ירושלים</div><div class="t td" style="right:235px;top:790px">5151</div><div class="t td" style="right:308px;top:790px">0.55%</div><div class="t td" style="right:381px;top:790px">0.19%</div><div class="t td" style="right:454px;top:790px">127095</div>
<div class="t tn" style="right:105px;top:822px">בני ברק</div><div class="t td" style="right:235px;top:823px">3745</div><div class="t td" style="right:308px;top:823px">1.86%</div><div class="t td" style="right:381px;top:823px">0.11%</div><div class="t td" style="right:454px;top:823px">53139</div>
<div class="t tn" style="right:105px;top:855px">תל אביב - יפו</div><div class="t td" style="right:235px;top:856px">1591</div><div class="t td" style="right:308px;top:856px">0.35%</div><div class="t td" style="right:381px;top:856px">0.51%</div><div class="t td" style="right:454px;top:856px">61083</div>
<div class="t tn" style="right:105px;top:888px">אשדוד</div><div class="t td" style="right:235px;top:889px">876</div><div class="t td" style="right:308px;top:889px">0.39%</div><div class="t td" style="right:381px;top:889px">0.11%</div><div class="t td" style="right:454px;top:889px">25439</div>
<div class="t tn" style="right:105px;top:921px">בית שמש</div><div class="t td" style="right:235px;top:922px">705</div><div class="t td" style="right:308px;top:922px">0.56%</div><div class="t td" style="right:381px;top:922px">0.00%</div><div class="t td" style="right:454px;top:922px">12707</div>
<div class="t tn" style="right:105px;top:954px">פתח תקווה</div><div class="t td" style="right:235px;top:955px">584</div><div class="t td" style="right:308px;top:955px">0.24%</div><div class="t td" style="right:381px;top:955px">0.52%</div><div class="t td" style="right:454px;top:955px">29813</div>
<div class="t tn" style="right:105px;top:987px">מודיעין עילית</div><div class="t td" style="right:235px;top:988px">572</div><div class="t td" style="right:308px;top:988px">0.74%</div><div class="t td" style="right:381px;top:988px">0.35%</div><div class="t td" style="right:454px;top:988px">10261</div>
<div class="t tn" style="right:105px;top:1020px">בת ים</div><div class="t td" style="right:235px;top:1021px">553</div><div class="t td" style="right:308px;top:1021px">0.43%</div><div class="t td" style="right:381px;top:1021px">0.18%</div><div class="t td" style="right:454px;top:1021px">18914</div>

<!-- ===== row 4 texts ===== -->
<div class="t h" style="right:1035px;top:1080px">בדיקות ותוצאות חיוביות יומיות</div>
<div class="t l" style="right:1058px;top:1106px">בדיקות</div>
<div class="t l" style="right:1129px;top:1106px">מאומתים</div>

<div class="t h" style="right:444px;top:1080px">סטטוס בתי החולים</div>
<div class="t th" style="right:439px;top:1127px">בית חולים</div>
<div class="t th" style="right:590px;top:1127px">קורונה <span style="font-size:10px">^</span></div>
<div class="t th" style="right:727px;top:1127px">תפוסה כללי %</div>
<div class="t th" style="right:863px;top:1127px">צוות בבידוד</div>

<div class="t tn" style="right:441px;top:1158px">שמיר (אסף הרופא)</div><div class="t td" style="right:590px;top:1159px">45.45%</div><div class="t td" style="right:727px;top:1159px">59.48%</div><div class="t td" style="right:863px;top:1159px">84</div>
<div class="t tn" style="right:441px;top:1191px">מעייני הישועה</div><div class="t td" style="right:590px;top:1192px">27.14%</div><div class="t td" style="right:727px;top:1192px">לא ידוע</div><div class="t td" style="right:863px;top:1192px">5</div>
<div class="t tn" style="right:441px;top:1224px">מאיר</div><div class="t td" style="right:590px;top:1225px">22.73%</div><div class="t td" style="right:727px;top:1225px">72.75%</div><div class="t td" style="right:863px;top:1225px">35</div>
<div class="t tn" style="right:441px;top:1257px">רמב"ם</div><div class="t td" style="right:590px;top:1258px">22.73%</div><div class="t td" style="right:727px;top:1258px">85.26%</div><div class="t td" style="right:863px;top:1258px">21</div>
<div class="t tn" style="right:441px;top:1290px">אסותא אשדוד בי"ח</div><div class="t td" style="right:590px;top:1291px">18.64%</div><div class="t td" style="right:727px;top:1291px">לא ידוע</div><div class="t td" style="right:863px;top:1291px">20</div>
<div class="t tn" style="right:441px;top:1323px">הדסה עין כרם</div><div class="t td" style="right:590px;top:1324px">17.91%</div><div class="t td" style="right:727px;top:1324px">102.97%</div><div class="t td" style="right:863px;top:1324px">129</div>
<div class="t tn" style="right:441px;top:1356px">שיבא</div><div class="t td" style="right:590px;top:1357px">16.50%</div><div class="t td" style="right:727px;top:1357px">90.76%</div><div class="t td" style="right:863px;top:1357px">122</div>
<div class="t tn" style="right:441px;top:1389px">וולפסון</div><div class="t td" style="right:590px;top:1390px">16.35%</div><div class="t td" style="right:727px;top:1390px">65.89%</div><div class="t td" style="right:863px;top:1390px">17</div>

<div class="t h" style="right:99px;top:1080px">אנשי צוות בריאות בבידוד</div>
<div class="t" style="right:317px;top:1083px;font-size:14px;color:#e0e6ea">פירוט</div>
<div class="t" style="right:315px;top:1106px;font-size:14px;color:#e0e6ea">אחרים</div>
<div class="t" style="right:94px;top:1192px;font-size:13px;color:#e6ecf0">אחים/ות</div>
<div class="t" style="right:105px;top:1212px;font-size:14px;font-weight:bold;color:#f5825f">487</div>
<div class="t" style="right:94px;top:1284px;font-size:13px;color:#e6ecf0">רופאים/ות</div>
<div class="t" style="right:110px;top:1304px;font-size:14px;font-weight:bold;color:#34c5d5">258</div>
<div class="t" style="right:326px;top:1244px;font-size:13px;color:#e6ecf0">מקצועות</div>
<div class="t" style="right:332px;top:1258px;font-size:13px;color:#e6ecf0">אחרים</div>
<div class="t" style="right:339px;top:1278px;font-size:14px;font-weight:bold;color:#8fd679">955</div>

</body>
</html>
